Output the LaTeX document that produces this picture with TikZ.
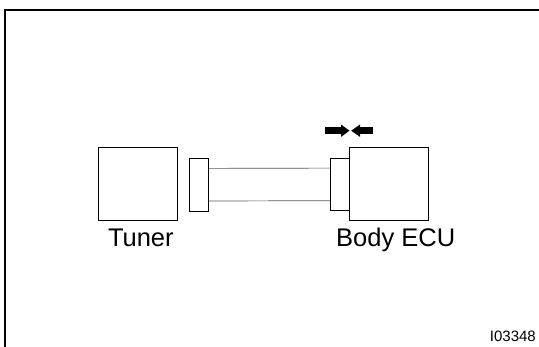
\documentclass[tikz,border=0pt]{standalone}
\usepackage{fontspec}
\setmainfont{Liberation Sans}
\tikzset{
    unit/.style={draw,line width=1.1pt,minimum width=79pt,minimum height=73.5pt,inner sep=0pt},
    plug/.style={draw,line width=1.1pt,minimum width=18.8pt,minimum height=52.3pt,inner sep=0pt},
    lbl/.style={anchor=base west,inner sep=0pt,font=\fontsize{25.5}{29}\selectfont},
    wire/.style={line width=0.7pt,black!65}
}
\begin{document}
\begin{tikzpicture}[x=1pt,y=-1pt]
    \useasboundingbox (0,0) rectangle (539,347);
    % frame
    \draw[line width=2.3pt] (539,10) -- (5,10) -- (5,347);
    % units and plugs
    \node[unit] (tuner) at (137.8,184.1) {};
    \node[plug] (lplug) at (198.8,185) {};
    \node[plug] (rplug) at (340,184.7) {};
    \node[unit] (ecu) at (388.8,184.2) {};
    \draw[wire] ([yshift=16.6pt]lplug.east) -- ([yshift=16.6pt]rplug.west);
    \draw[wire] ([yshift=-16pt]lplug.east) -- ([yshift=-16pt]rplug.west);
    % labels
    \node[lbl] (tunerlbl) at (107.8,246.7) {Tuner};
    \node[lbl] (eculbl) at (336,246.7) {Body ECU};
    \node[anchor=base east,inner sep=0pt,font=\fontsize{15}{18}\selectfont] (code) at (536,341.3) {I03348};
    % push arrows
    \coordinate (push) at (350,130.7);
    \fill ([xshift=-25pt,yshift=3.3pt]push) rectangle ([xshift=-8pt,yshift=-3.3pt]push);
    \fill ([xshift=-9pt,yshift=6.2pt]push) -- ([xshift=-0.5pt]push) -- ([xshift=-9pt,yshift=-6.2pt]push) -- cycle;
    \fill ([xshift=23pt,yshift=3.3pt]push) rectangle ([xshift=9pt,yshift=-3.3pt]push);
    \fill ([xshift=10pt,yshift=6.2pt]push) -- ([xshift=1.2pt]push) -- ([xshift=10pt,yshift=-6.2pt]push) -- cycle;
\end{tikzpicture}
\end{document}
